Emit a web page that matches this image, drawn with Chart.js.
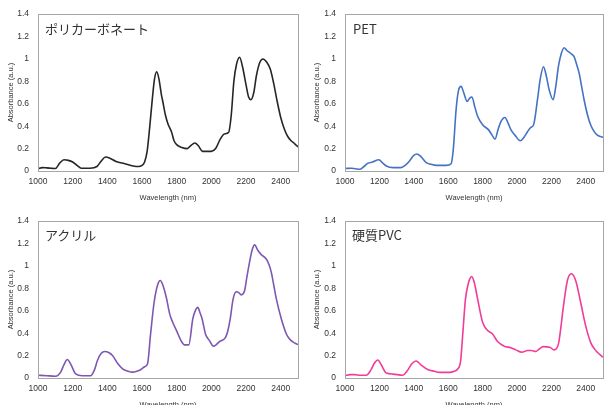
<!DOCTYPE html>
<html>
<head>
<meta charset="utf-8">
<script src="https://cdn.jsdelivr.net/npm/chart.js@4.4.1/dist/chart.umd.min.js"></script>
<style>
  html, body { margin: 0; padding: 0; background: #fff; }
  body { width: 604px; height: 405px; overflow: hidden; position: relative; }
  .box { position: absolute; }
  .label {
    position: absolute;
    font-family: "Noto Sans CJK JP", "Noto Sans", sans-serif;
    font-size: 13px;
    line-height: 16px;
    color: #333;
    white-space: nowrap;
  }
</style>
</head>
<body>
<div class="box" style="left:0;top:0;width:302px;height:206px"><canvas id="pc"></canvas></div>
<div class="box" style="left:302px;top:0;width:306px;height:206px"><canvas id="pet"></canvas></div>
<div class="box" style="left:0;top:207px;width:302px;height:206px"><canvas id="acr"></canvas></div>
<div class="box" style="left:302px;top:207px;width:306px;height:206px"><canvas id="pvc"></canvas></div>

<div class="label" style="left:45px;top:21px">ポリカーボネート</div>
<div class="label" style="left:353px;top:21px">PET</div>
<div class="label" style="left:45px;top:227px">アクリル</div>
<div class="label" style="left:352px;top:227px">硬質PVC</div>

<script>
// tick values
const xTicks = [1000, 1200, 1400, 1600, 1800, 2000, 2200, 2400];
const yTicks = [0, 0.2, 0.4, 0.6, 0.8, 1, 1.2, 1.4];

// ポリカーボネート
const pcWl = [1000,1025,1050,1075,1100,1125,1150,1175,1200,1225,1250,1300,1340,1365,1390,1420,1450,1500,1550,1580,1600,1615,1630,1645,1660,1672,1685,1698,1712,1720,1735,1750,1770,1785,1800,1830,1860,1880,1905,1925,1950,1975,2000,2025,2050,2075,2100,2115,2130,2145,2163,2180,2200,2215,2228,2245,2260,2280,2298,2320,2340,2360,2380,2400,2420,2440,2460,2480,2500];
const pcAbs = [0.02,0.03,0.028,0.025,0.022,0.07,0.1,0.095,0.08,0.05,0.025,0.025,0.04,0.09,0.125,0.11,0.085,0.065,0.045,0.04,0.05,0.08,0.18,0.4,0.65,0.82,0.885,0.82,0.68,0.62,0.5,0.42,0.35,0.27,0.235,0.21,0.2,0.225,0.25,0.225,0.175,0.175,0.175,0.2,0.28,0.33,0.345,0.5,0.8,0.95,1.015,0.93,0.77,0.66,0.636,0.7,0.85,0.97,1.0,0.97,0.91,0.78,0.62,0.48,0.38,0.31,0.27,0.245,0.215];

// PET
const petWl = [1000,1040,1085,1110,1133,1160,1197,1220,1240,1280,1325,1350,1375,1400,1418,1440,1472,1500,1530,1588,1617,1630,1646,1660,1675,1690,1710,1725,1738,1755,1771,1800,1835,1855,1872,1890,1907,1930,1950,1965,1988,2019,2040,2061,2080,2096,2119,2135,2154,2170,2187,2210,2225,2241,2258,2274,2290,2303,2320,2332,2345,2361,2375,2390,2410,2428,2445,2467,2500];
const petAbs = [0.022,0.025,0.015,0.04,0.069,0.08,0.1,0.07,0.045,0.03,0.03,0.05,0.09,0.14,0.152,0.13,0.075,0.06,0.05,0.05,0.065,0.2,0.55,0.72,0.755,0.7,0.62,0.65,0.66,0.57,0.488,0.412,0.367,0.32,0.284,0.37,0.442,0.478,0.42,0.367,0.32,0.27,0.3,0.35,0.39,0.41,0.636,0.82,0.93,0.85,0.725,0.636,0.75,0.935,1.05,1.1,1.075,1.06,1.04,1.02,0.96,0.875,0.76,0.636,0.5,0.412,0.36,0.32,0.3];

// アクリル
const acrWl = [1000,1050,1101,1130,1150,1169,1190,1217,1256,1304,1325,1343,1365,1385,1410,1430,1460,1488,1520,1545,1570,1594,1615,1632,1650,1670,1690,1705,1720,1740,1760,1777,1800,1825,1844,1870,1893,1910,1922,1935,1947,1966,1989,2012,2030,2047,2082,2095,2109,2125,2144,2160,2172,2192,2205,2220,2235,2250,2268,2288,2317,2333,2346,2360,2375,2404,2433,2450,2468,2500];
const acrAbs = [0.025,0.02,0.016,0.05,0.12,0.165,0.12,0.037,0.02,0.02,0.07,0.156,0.22,0.236,0.225,0.2,0.13,0.082,0.06,0.052,0.06,0.076,0.1,0.127,0.4,0.676,0.83,0.87,0.83,0.72,0.57,0.497,0.42,0.334,0.296,0.296,0.527,0.61,0.63,0.58,0.527,0.393,0.334,0.284,0.3,0.325,0.363,0.42,0.527,0.7,0.77,0.76,0.742,0.78,0.9,1.03,1.14,1.188,1.14,1.101,1.062,1.01,0.943,0.83,0.706,0.527,0.393,0.35,0.325,0.298];

// 硬質PVC
const pvcWl = [1000,1030,1056,1090,1123,1150,1170,1191,1210,1240,1280,1336,1360,1390,1413,1440,1481,1520,1549,1607,1635,1655,1672,1685,1700,1718,1737,1752,1771,1800,1829,1858,1887,1926,1964,1993,2028,2061,2085,2109,2130,2152,2190,2216,2241,2255,2268,2293,2316,2341,2370,2399,2428,2450,2467,2500];
const pvcAbs = [0.02,0.03,0.03,0.025,0.025,0.07,0.13,0.16,0.12,0.044,0.035,0.025,0.06,0.13,0.152,0.12,0.075,0.06,0.05,0.05,0.06,0.08,0.15,0.4,0.7,0.85,0.905,0.85,0.706,0.497,0.424,0.393,0.325,0.284,0.27,0.251,0.23,0.245,0.245,0.236,0.26,0.28,0.275,0.251,0.305,0.45,0.617,0.87,0.93,0.87,0.676,0.467,0.318,0.26,0.23,0.185];

const tickColor = '#333';

// grey frame around the plot area
const frame = {
  id: 'frame',
  afterDatasetsDraw(chart) {
    const a = chart.chartArea;
    const ctx = chart.ctx;
    ctx.save();
    ctx.strokeStyle = '#a6a6a6';
    ctx.lineWidth = 1;
    ctx.strokeRect(Math.round(a.left) + 0.5, Math.round(a.top) + 0.5,
      Math.round(a.right - a.left), Math.round(a.bottom - a.top));
    ctx.restore();
  }
};

function makeChart(id, wl, abs, color, yWidth, yTitlePad, padRight) {
  const points = wl.map((w, i) => ({ x: w, y: abs[i] }));
  return new Chart(document.getElementById(id), {
    type: 'line',
    data: {
      datasets: [{
        data: points,
        borderColor: color,
        borderWidth: 1.6,
        pointRadius: 0,
        fill: false,
        tension: 0.4,
        cubicInterpolationMode: 'monotone'
      }]
    },
    options: {
      responsive: true,
      maintainAspectRatio: false,
      animation: false,
      layout: { padding: { top: 14, right: padRight, bottom: 0, left: 0 } },
      plugins: { legend: { display: false }, tooltip: { enabled: false } },
      scales: {
        x: {
          type: 'linear',
          min: 1000,
          max: 2500,
          afterBuildTicks: s => { s.ticks = xTicks.map(v => ({ value: v })); },
          afterFit: s => { s.height = 35; },
          grid: { display: false, drawTicks: false },
          border: { display: false },
          ticks: {
            padding: 6,
            color: tickColor,
            font: { family: 'Liberation Sans', size: 8.5 },
            callback: v => String(v),
            maxRotation: 0
          },
          title: {
            display: true,
            text: 'Wavelength (nm)',
            color: tickColor,
            font: { family: 'Liberation Sans', size: 7.5 },
            padding: { top: 0, bottom: 4 }
          }
        },
        y: {
          min: 0,
          max: 1.4,
          afterBuildTicks: s => { s.ticks = yTicks.map(v => ({ value: v })); },
          afterFit: s => { s.width = yWidth; },
          grid: { display: false, drawTicks: false },
          border: { display: false },
          ticks: {
            padding: 9,
            color: tickColor,
            font: { family: 'Liberation Sans', size: 8.5 },
            callback: v => String(v)
          },
          title: {
            display: true,
            text: 'Absorbance (a.u.)',
            color: tickColor,
            font: { family: 'Liberation Sans', size: 7.5 },
            padding: { top: yTitlePad, bottom: 0 }
          }
        }
      }
    },
    plugins: [frame]
  });
}

makeChart('pc', pcWl, pcAbs, '#262626', 38, 6, 4);
makeChart('pet', petWl, petAbs, '#4472c4', 43, 10, 5);
makeChart('acr', acrWl, acrAbs, '#7e57b2', 38, 6, 4);
makeChart('pvc', pvcWl, pvcAbs, '#f03c9a', 43, 10, 5);
</script>
</body>
</html>
